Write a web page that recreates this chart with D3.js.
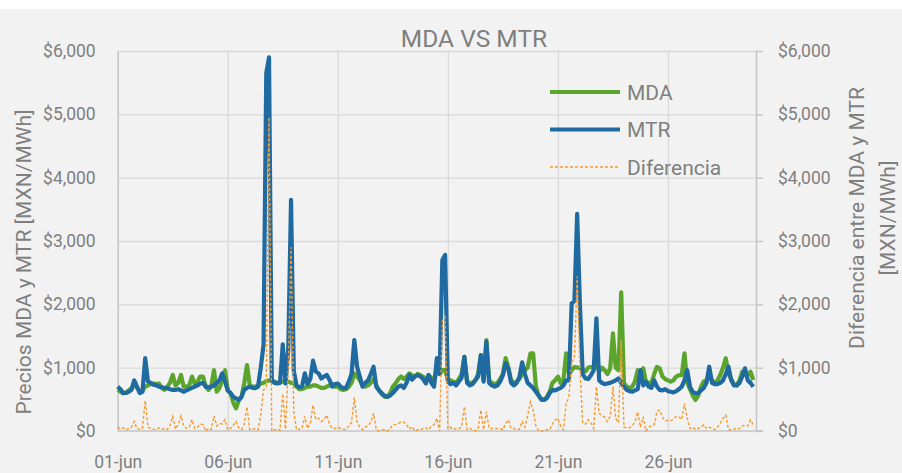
<!DOCTYPE html>
<html>
<head>
<meta charset="utf-8">
<script src="https://cdn.jsdelivr.net/npm/d3@7"></script>
<style>
  body { margin: 0; background: #ffffff; }
  svg text { font-family: Roboto, "Noto Sans", sans-serif; fill: #7f7f7f; }
</style>
</head>
<body>
<script>
// precios horarios cada 3 horas, 01-jun 00h .. 29-jun 21h (8 valores por dia)
var mda = [
  650, 620, 595, 610, 640, 680, 720, 690,   // 01
  620, 640, 700, 720, 740, 750, 740, 750,   // 02
  680, 650, 700, 760, 885, 720, 760, 885,   // 03
  700, 700, 720, 860, 740, 780, 860, 860,   // 04
  700, 650, 700, 960, 620, 680, 800, 960,   // 05
  640, 600, 450, 358, 480, 540, 760, 1040,  // 06
  720, 700, 700, 720, 750, 760, 790, 800,   // 07
  800, 780, 760, 770, 780, 780, 780, 760,   // 08
  760, 700, 660, 660, 680, 700, 700, 720,   // 09
  720, 700, 680, 680, 700, 720, 740, 700,   // 10
  700, 660, 650, 660, 700, 760, 910, 860,   // 11
  800, 720, 700, 720, 760, 820, 720, 640,   // 12
  580, 540, 540, 600, 700, 750, 820, 860,   // 13
  820, 860, 910, 880, 860, 900, 880, 860,   // 14
  800, 880, 840, 800, 960, 900, 960, 960,   // 15
  820, 800, 780, 760, 820, 900, 1170, 780,  // 16
  760, 760, 800, 900, 1200, 800, 1437, 800, // 17
  760, 740, 760, 820, 900, 1150, 1000, 800, // 18
  760, 780, 820, 900, 960, 1000, 1226, 1226,// 19
  700, 560, 490, 490, 540, 620, 760, 800,   // 20
  858, 760, 800, 1226, 900, 960, 1010, 1000,// 21
  1000, 960, 940, 1000, 1010, 1000, 1070, 940, // 22
  1000, 960, 900, 990, 1540, 1000, 960, 2190,  // 23
  760, 700, 680, 700, 780, 960, 900, 990,   // 24
  780, 760, 760, 900, 1013, 990, 860, 820,  // 25
  800, 780, 800, 860, 880, 880, 1226, 760,  // 26
  660, 560, 490, 560, 700, 780, 805, 880,   // 27
  800, 760, 800, 885, 1000, 1150, 900, 820, // 28
  740, 720, 800, 936, 900, 880, 936, 805    // 29
];

var mtr = [
  700, 660, 600, 600, 620, 650, 800, 700,   // 01
  600, 620, 1150, 780, 760, 730, 720, 700,  // 02
  690, 680, 675, 660, 650, 650, 660, 640,   // 03
  620, 640, 660, 680, 700, 720, 750, 760,   // 04
  700, 690, 700, 720, 760, 800, 910, 780,   // 05
  640, 600, 540, 515, 490, 540, 650, 680,   // 06
  700, 680, 675, 700, 1000, 1354, 5650, 5900, // 07
  800, 760, 750, 760, 1370, 750, 1300, 3650,  // 08
  950, 720, 690, 700, 910, 740, 820, 1110,  // 09
  940, 910, 830, 860, 885, 805, 700, 740,   // 10
  750, 700, 675, 680, 780, 900, 1437, 1015, // 11
  860, 700, 760, 800, 900, 1015, 700, 640,  // 12
  595, 560, 540, 560, 600, 650, 700, 720,   // 13
  680, 760, 885, 810, 860, 885, 860, 820,   // 14
  750, 885, 760, 700, 1150, 900, 2700, 2780,// 15
  780, 740, 760, 720, 780, 840, 1170, 760,  // 16
  720, 740, 800, 860, 1200, 780, 1406, 760, // 17
  720, 700, 720, 780, 880, 1070, 980, 760,  // 18
  720, 760, 850, 1085, 900, 760, 720, 680,  // 19
  620, 560, 500, 490, 520, 600, 650, 640,   // 20
  660, 680, 720, 800, 800, 2015, 2050, 3430,// 21
  2000, 900, 830, 820, 880, 960, 1780, 800, // 22
  760, 740, 750, 760, 780, 800, 830, 760,   // 23
  700, 650, 630, 620, 640, 660, 960, 720,   // 24
  777, 700, 680, 800, 700, 650, 640, 660,   // 25
  630, 620, 610, 630, 660, 700, 800, 960,   // 26
  700, 620, 595, 600, 640, 680, 760, 1015,  // 27
  760, 740, 740, 760, 800, 900, 1015, 800,  // 28
  720, 720, 760, 860, 990, 800, 760, 700    // 29
];

var diferencia = [
  60, 30, 50, 20, 40, 60, 150, 40,          // 01
  30, 40, 480, 60, 40, 30, 20, 50,          // 02
  30, 40, 20, 90, 230, 30, 100, 240,        // 03
  80, 40, 60, 180, 40, 60, 110, 100,        // 04
  0, 40, 20, 240, 80, 120, 110, 180,        // 05
  20, 40, 90, 150, 50, 20, 110, 383,        // 06
  20, 30, 40, 20, 250, 645, 700, 4950,      // 07
  0, 20, 30, 10, 590, 30, 1010, 2900,       // 08
  300, 20, 30, 40, 230, 40, 120, 410,       // 09
  180, 200, 150, 180, 250, 100, 40, 40,     // 10
  60, 40, 30, 20, 80, 140, 530, 150,        // 11
  60, 20, 60, 80, 140, 280, 20, 0,          // 12
  15, 20, 0, 40, 100, 100, 120, 140,        // 13
  140, 100, 30, 70, 0, 20, 20, 40,          // 14
  50, 20, 80, 100, 200, 0, 1740, 1800,      // 15
  40, 60, 20, 40, 40, 60, 385, 20,          // 16
  40, 20, 0, 40, 330, 20, 305, 40,          // 17
  40, 40, 40, 40, 20, 120, 175, 40,         // 18
  40, 20, 30, 150, 60, 240, 463, 330,       // 19
  80, 0, 0, 0, 20, 20, 110, 175,            // 20
  200, 80, 20, 430, 540, 1070, 1170, 2440,  // 21
  1000, 126, 110, 180, 130, 40, 700, 280,   // 22
  240, 220, 150, 230, 700, 200, 130, 1440,  // 23
  60, 50, 50, 80, 140, 300, 60, 225,        // 24
  0, 60, 80, 100, 310, 330, 220, 160,       // 25
  170, 160, 190, 230, 220, 180, 437, 200,   // 26
  40, 60, 20, 40, 60, 100, 40, 60,          // 27
  40, 20, 60, 120, 200, 250, 20, 20,        // 28
  40, 20, 40, 80, 90, 80, 176, 100          // 29
];

var dias = ["01-jun", "06-jun", "11-jun", "16-jun", "21-jun", "26-jun"];
var precios = [0, 1000, 2000, 3000, 4000, 5000, 6000];
var series = ["MDA", "MTR", "Diferencia"];

var w = 902;
var h = 473;
var x0 = 117.7, x1 = 756, yTop = 51, yBottom = 431;
var pasoHoras = 3;
var colores = { MDA: "#5ba52c", MTR: "#1f6aa0", Diferencia: "#f59a2e" };

var svg = d3.select("body").append("svg")
    .attr("width", w)
    .attr("height", h);

svg.append("rect")
    .attr("x", 0).attr("y", 9)
    .attr("width", w).attr("height", h - 9)
    .attr("fill", "#f2f2f2");

var x = d3.scaleLinear().domain([0, 29 * 24]).range([x0, x1]);
var y = d3.scaleLinear().domain([0, 6000]).range([yBottom, yTop]);
var y2 = d3.scaleLinear().domain([0, 6000]).range([yBottom, yTop]);

var horasTicks = dias.map(function(d, i) { return i * 5 * 24; });
var fmt = function(d) { return "$" + d3.format(",")(d); };

// gridlines
var gridY = svg.append("g")
    .attr("transform", "translate(" + x0 + ",0)")
    .call(d3.axisLeft(y).tickValues(precios.slice(1)).tickSize(-(x1 - x0)).tickFormat(""));
var gridX = svg.append("g")
    .attr("transform", "translate(0," + yBottom + ")")
    .call(d3.axisBottom(x).tickValues(horasTicks.slice(1)).tickSize(-(yBottom - yTop)).tickFormat(""));
[gridY, gridX].forEach(function(g) {
    g.select(".domain").remove();
    g.selectAll("line").attr("stroke", "#d9d9d9").attr("stroke-width", 1.3);
});

// left axis
var ejeIzq = svg.append("g")
    .attr("transform", "translate(" + x0 + ",0)")
    .call(d3.axisLeft(y).tickValues(precios).tickFormat(fmt).tickSize(0).tickPadding(22));
ejeIzq.select(".domain").attr("stroke", "#c4c4c4").attr("stroke-width", 1.5);

// right axis
var ejeDer = svg.append("g")
    .attr("transform", "translate(" + x1 + ",0)")
    .call(d3.axisRight(y2).tickValues(precios).tickFormat(fmt).tickSize(7).tickSizeOuter(0).tickPadding(15));
ejeDer.select(".domain").attr("stroke", "#c4c4c4").attr("stroke-width", 1.5);
ejeDer.selectAll("line").attr("stroke", "#c4c4c4").attr("stroke-width", 1.5);

// bottom axis
var ejeX = svg.append("g")
    .attr("transform", "translate(0," + yBottom + ")")
    .call(d3.axisBottom(x).tickValues(horasTicks).tickFormat(function(d, i) { return dias[i]; }).tickSize(0).tickPadding(25));
ejeX.select(".domain").remove();
svg.append("line")
    .attr("x1", x0).attr("x2", x1 + 7)
    .attr("y1", yBottom).attr("y2", yBottom)
    .attr("stroke", "#c4c4c4").attr("stroke-width", 1.5);

svg.selectAll(".tick text")
    .style("font-size", "17.5px")
    .attr("fill", "#7f7f7f");

// lines
var linea = function(esc) {
    return d3.line()
        .x(function(d, i) { return x(i * pasoHoras); })
        .y(function(d) { return esc(d); });
};

svg.append("path").datum(mda)
    .attr("d", linea(y))
    .attr("fill", "none")
    .attr("stroke", colores.MDA)
    .attr("stroke-width", 4.2)
    .attr("stroke-linejoin", "round");

svg.append("path").datum(mtr)
    .attr("d", linea(y))
    .attr("fill", "none")
    .attr("stroke", colores.MTR)
    .attr("stroke-width", 4.2)
    .attr("stroke-linejoin", "round");

svg.append("path").datum(diferencia)
    .attr("d", linea(y2))
    .attr("fill", "none")
    .attr("stroke", colores.Diferencia)
    .attr("stroke-width", 1.4)
    .attr("stroke-dasharray", "3,2");

// title
svg.append("text")
    .attr("x", 474).attr("y", 47)
    .attr("text-anchor", "middle")
    .style("font-size", "24.5px")
    .attr("fill", "#757575")
    .text("MDA VS MTR");

// axis titles
svg.append("text")
    .attr("transform", "translate(31,262) rotate(-90)")
    .attr("text-anchor", "middle")
    .style("font-size", "21px")
    .text("Precios MDA y MTR [MXN/MWh]");

svg.append("text")
    .attr("transform", "translate(864,218) rotate(-90)")
    .attr("text-anchor", "middle")
    .style("font-size", "21px")
    .text("Diferencia entre MDA y MTR");

svg.append("text")
    .attr("transform", "translate(895,218) rotate(-90)")
    .attr("text-anchor", "middle")
    .style("font-size", "21px")
    .text("[MXN/MWh]");

// legend
var leyenda = svg.append("g")
    .selectAll("g")
    .data(series)
    .enter()
    .append("g")
    .attr("transform", function(d, i) { return "translate(550," + (92 + i * 37.5) + ")"; });

leyenda.append("line")
    .attr("x1", 0).attr("x2", 70)
    .attr("stroke", function(d) { return colores[d]; })
    .attr("stroke-width", function(d) { return d == "Diferencia" ? 1.4 : 4; })
    .attr("stroke-dasharray", function(d) { return d == "Diferencia" ? "3,2" : null; });

leyenda.append("text")
    .attr("x", 77)
    .attr("dy", "0.36em")
    .style("font-size", "21px")
    .text(function(d) { return d; });
</script>
</body>
</html>
